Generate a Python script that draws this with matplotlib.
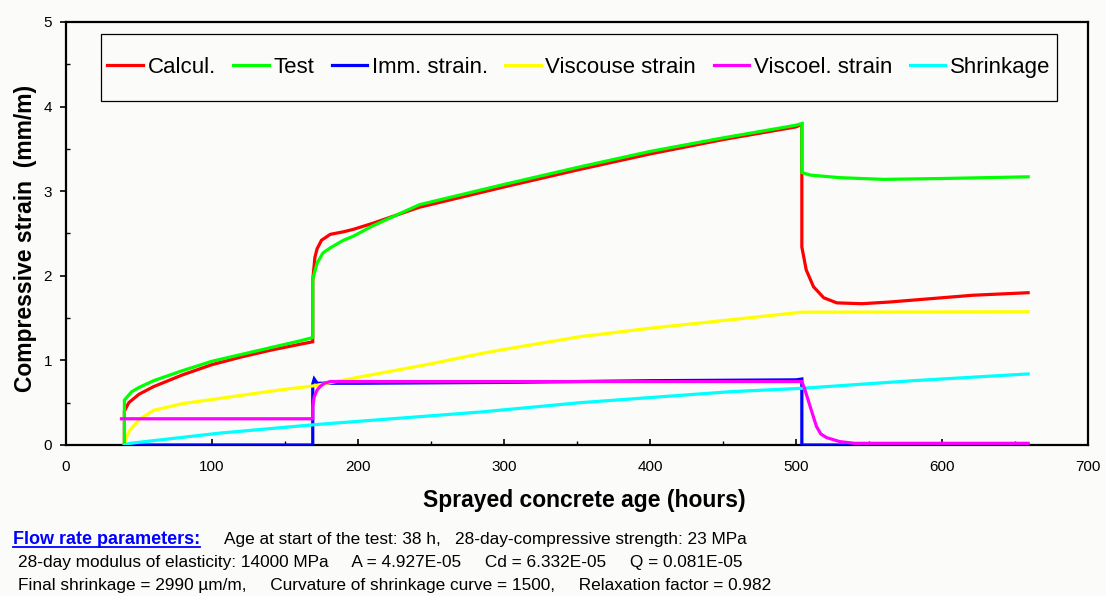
import matplotlib
matplotlib.use("Agg")
import matplotlib.pyplot as plt
from matplotlib.lines import Line2D
from matplotlib.patches import Rectangle
from matplotlib.ticker import MultipleLocator

plt.rcParams["font.family"] = ["Liberation Sans", "DejaVu Sans"]

# calculated strain (mm/m) vs sprayed concrete age (h)
t_calc = [40, 40, 43, 50, 60, 80, 100, 120, 140, 160, 169, 169, 170.5, 172, 175, 181, 190, 197, 210,
          242, 300, 350, 400, 450, 500, 504, 504, 507, 512, 519, 528, 545, 564, 621, 659]
calc = [0, 0.40, 0.50, 0.60, 0.69, 0.83, 0.95, 1.04, 1.12, 1.19, 1.22, 1.95, 2.22, 2.32, 2.42, 2.49, 2.52, 2.55, 2.62,
        2.81, 3.05, 3.25, 3.44, 3.61, 3.76, 3.79, 2.34, 2.07, 1.87, 1.74, 1.68, 1.67, 1.69, 1.77, 1.80]

# measured strain
t_test = [40, 40, 45, 50, 60, 80, 100, 120, 140, 160, 169, 169, 172, 176, 181, 190, 197, 210,
          242, 300, 350, 400, 450, 500, 504, 504, 510, 530, 560, 600, 659]
test = [0, 0.53, 0.63, 0.68, 0.76, 0.88, 0.99, 1.07, 1.15, 1.23, 1.27, 1.96, 2.15, 2.27, 2.33, 2.42, 2.47, 2.59,
        2.84, 3.08, 3.28, 3.47, 3.63, 3.78, 3.80, 3.22, 3.19, 3.16, 3.14, 3.15, 3.17]

t_imm = [40, 169, 169, 170, 172, 200, 300, 400, 500, 504, 504, 659]
imm = [0, 0, 0.72, 0.78, 0.73, 0.73, 0.74, 0.76, 0.77, 0.78, 0, 0]

t_visc = [40, 42, 44, 50, 60, 80, 105, 146, 170, 200, 250, 284, 300, 352, 400, 455, 504, 659]
visc = [0, 0.12, 0.18, 0.30, 0.41, 0.49, 0.55, 0.65, 0.70, 0.80, 0.96, 1.08, 1.13, 1.28, 1.38, 1.48, 1.57, 1.575]

t_ve = [38, 169, 169, 170, 172, 174, 177, 181, 504, 506, 509.6, 514, 517, 521, 530, 540, 659]
viscoel = [0.31, 0.31, 0.45, 0.57, 0.65, 0.69, 0.73, 0.75, 0.75, 0.66, 0.46, 0.22, 0.13, 0.087, 0.04, 0.02, 0.02]

t_shr = [40, 44, 105, 170, 284, 352, 455, 504, 580, 659]
shrink = [0, 0.02, 0.14, 0.24, 0.39, 0.50, 0.63, 0.67, 0.76, 0.84]

labels = ["Calcul.", "Test", "Imm. strain.", "Viscouse strain", "Viscoel. strain", "Shrinkage"]
colors = ["#ff0000", "#00ff00", "#0000ff", "#ffff00", "#ff00ff", "#00ffff"]

bg = "#fbfcfa"
W, H = 1106, 596
fig = plt.figure(figsize=(W / 100, H / 100), dpi=100, facecolor=bg)
ax = fig.add_axes([66 / W, 1 - 445 / H, 1022 / W, 423 / H])
ax.set_facecolor(bg)

series = [(t_calc, calc), (t_test, test), (t_imm, imm), (t_visc, visc), (t_ve, viscoel), (t_shr, shrink)]
zorders = [3, 4, 3, 3, 5, 4]
for (tx, vy), lab, col, z in zip(series, labels, colors, zorders):
    ax.plot(tx, vy, color=col, lw=2.3, label=lab, zorder=z, solid_joinstyle="miter")

ax.set_xlim(0, 700)
ax.set_ylim(0, 5)
ax.xaxis.set_major_locator(MultipleLocator(100))
ax.xaxis.set_minor_locator(MultipleLocator(50))
ax.yaxis.set_major_locator(MultipleLocator(1))
ax.yaxis.set_minor_locator(MultipleLocator(0.5))
ax.tick_params(axis="x", which="major", direction="in", length=4, width=1.2, pad=11, labelsize=11)
ax.tick_params(axis="x", which="minor", direction="in", length=3, width=1.0)
ax.tick_params(axis="y", which="major", direction="out", length=4, width=1.2, pad=6, labelsize=11)
ax.tick_params(axis="y", which="minor", direction="in", length=3, width=1.0)
for sp in ax.spines.values():
    sp.set_linewidth(1.6)

# legend box drawn separately so it can be tall with tight side padding
box = (0.034, 0.813, 0.9354, 0.158)
ax.add_patch(Rectangle(box[:2], box[2], box[3], transform=ax.transAxes, facecolor=bg,
                       edgecolor="black", lw=0.9, zorder=6))
leg = ax.legend(loc="center", bbox_to_anchor=box, mode="expand", ncol=6, fontsize=16, frameon=False,
                handlelength=1.6, handletextpad=0.2, borderpad=0.3, borderaxespad=0, columnspacing=0.8)
leg.set_zorder(7)

fig.text(26 / W, 1 - 238.5 / H, "Compressive strain  (mm/m)", rotation=90, ha="center", va="center",
         fontsize=16.5, weight="bold")
fig.text(584.6 / W, 1 - 500 / H, "Sprayed concrete age (hours)", ha="center", va="center",
         fontsize=16.5, weight="bold")

fs = 12.45
head = fig.text(13 / W, 1 - 544 / H, "Flow rate parameters:", color="#0000ff", weight="bold",
                fontsize=13, va="baseline")
fig.text(224 / W, 1 - 544 / H, "Age at start of the test: 38 h,   28-day-compressive strength: 23 MPa",
         fontsize=fs, va="baseline")
fig.text(18 / W, 1 - 566.7 / H,
         "28-day modulus of elasticity: 14000 MPa     A = 4.927E-05     Cd = 6.332E-05     Q = 0.081E-05",
         fontsize=fs, va="baseline")
fig.text(18 / W, 1 - 590 / H,
         "Final shrinkage = 2990 \u00b5m/m,     Curvature of shrinkage curve = 1500,     Relaxation factor = 0.982",
         fontsize=fs, va="baseline")

fig.canvas.draw()
bb = head.get_window_extent()
uy = (H - 547) / H
fig.add_artist(Line2D([bb.x0 / W, bb.x1 / W], [uy, uy], color="#0000ff", lw=1.3))

fig.savefig("out.png", dpi=100, facecolor=bg)
